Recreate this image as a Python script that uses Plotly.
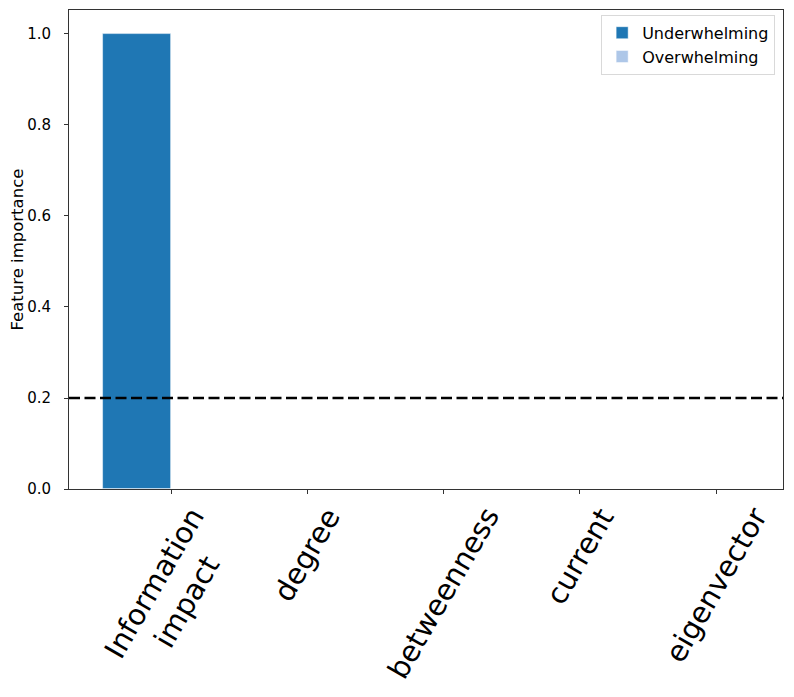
import plotly.graph_objects as go

categories = ["Information<br>impact", "degree", "betweenness", "current", "eigenvector"]
underwhelming = [1.0, 0.0, 0.0, 0.0, 0.0]
overwhelming = [0.0, 0.0, 0.0, 0.0, 0.0]
threshold = 0.2
y_ticks = [0.0, 0.2, 0.4, 0.6, 0.8, 1.0]
y_tick_text = ["0.0", "0.2", "0.4", "0.6", "0.8", "1.0"]

xpos = list(range(len(categories)))
FONT = "DejaVu Sans"

fig = go.Figure()
fig.add_trace(go.Bar(x=xpos, y=underwhelming, name="Underwhelming",
                     marker=dict(color="#1f77b4", line=dict(color="rgba(255,255,255,0.6)", width=0.8))))
fig.add_trace(go.Bar(x=xpos, y=overwhelming, name="Overwhelming",
                     marker=dict(color="#aec7e8", line=dict(color="rgba(255,255,255,0.6)", width=0.8))))

fig.add_shape(type="line", xref="paper", yref="y", x0=0, x1=1, y0=threshold, y1=threshold,
              line=dict(color="black", width=2.5, dash="11px,4.5px"))

for xi, lab in zip(xpos, categories):
    fig.add_annotation(x=xi, y=0, xref="x", yref="paper", text=lab, showarrow=False,
                       textangle=-60, xanchor="center", yanchor="top", yshift=-10,
                       align="center", font=dict(family=FONT, size=29, color="black"))

fig.add_annotation(x=0, xref="paper", xshift=-52, y=0.5, yref="paper", xanchor="center", yanchor="middle",
                   text="Feature importance", textangle=-90, showarrow=False,
                   font=dict(family=FONT, size=16.5, color="black"))

fig.update_layout(
    width=786, height=689,
    margin=dict(l=61, r=11, t=2, b=208, autoexpand=False),
    paper_bgcolor="white", plot_bgcolor="white",
    barmode="group", bargap=0, bargroupgap=0,
    font=dict(family=FONT, size=15, color="black"),
    showlegend=True,
    legend=dict(x=0.989, y=0.99, xanchor="right", yanchor="top",
                bgcolor="white", bordercolor="#d9d9d9", borderwidth=1,
                font=dict(family=FONT, size=16, color="black"),
                traceorder="normal", itemwidth=30, tracegroupgap=0),
)
fig.update_xaxes(range=[-0.75, 4.49], tickmode="array", tickvals=xpos, ticktext=[""] * len(xpos),
                 ticks="outside", ticklen=4, tickcolor="#333", showgrid=False, zeroline=False,
                 showline=True, linecolor="#333", linewidth=1, mirror=True, automargin=False)
fig.update_yaxes(range=[0, 1.0527], tickmode="array", tickvals=y_ticks, ticktext=y_tick_text,
                 ticks="outside", ticklen=4, tickcolor="#333", showgrid=False, zeroline=False,
                 showline=True, linecolor="#333", linewidth=1, mirror=True, automargin=False,
                 tickfont=dict(family=FONT, size=15, color="black"), ticklabelstandoff=10)

fig.write_html("out.html")
